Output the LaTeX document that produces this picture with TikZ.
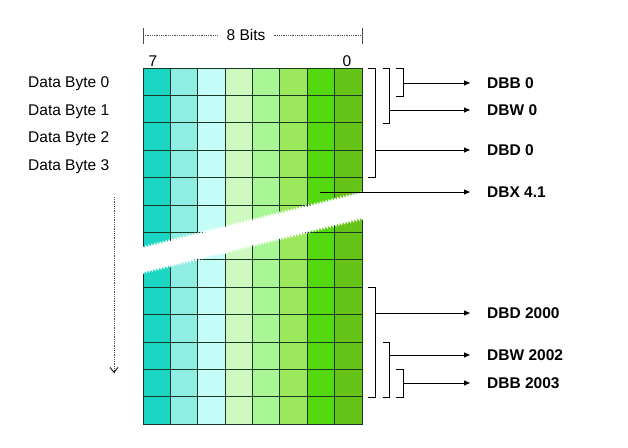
\documentclass[tikz,border=0pt]{standalone}
\usepackage{fontspec}
\setmainfont{Liberation Sans}
\usetikzlibrary{arrows.meta,positioning,decorations.pathmorphing}

\definecolor{bitA}{RGB}{28,214,196}
\definecolor{bitB}{RGB}{142,238,228}
\definecolor{bitC}{RGB}{196,252,248}
\definecolor{bitD}{RGB}{206,250,192}
\definecolor{bitE}{RGB}{168,246,150}
\definecolor{bitF}{RGB}{156,232,92}
\definecolor{bitG}{RGB}{84,216,16}
\definecolor{bitH}{RGB}{102,196,24}
\definecolor{gridline}{RGB}{24,56,36}

\begin{document}
\begin{tikzpicture}[x=1pt, y=-1pt,
    every node/.style={font=\fontsize{15.5}{18}\selectfont, inner sep=0pt},
    lbl/.style={font=\fontsize{15.5}{18}\selectfont\bfseries, anchor=west},
    cell/.style={draw=gridline, line width=1pt},
    brk/.style={line width=0.8pt},
    arr/.style={-{Triangle[length=6pt,width=5pt]}, line width=0.8pt, shorten >=17pt},
    dim/.style={densely dotted, black!70, line width=0.8pt}
]
\useasboundingbox (0,0) rectangle (628,447);

% Bit width marker
\coordinate (bitL) at (143,35);
\coordinate (bitR) at (362,35);
\node[inner xsep=8pt] (bits) at (246,35) {8 Bits};
\draw[dim] (bitL) -- (bits) -- (bitR);
\draw[line width=0.8pt, black!70] (143,28) -- (143,44);
\draw[line width=0.8pt, black!70] (362,28) -- (362,44);
\node (msb) at (153,61) {7};
\node (lsb) at (347,61) {0};

% Byte cells, one column per bit
\foreach \c/\col in {0/bitA,1/bitB,2/bitC,3/bitD,4/bitE,5/bitF,6/bitG,7/bitH}
  \foreach \r in {0,...,12}
    \filldraw[cell, fill=\col] ({143+27.375*\c},{68+27.4*\r}) rectangle +(27.375,27.4);

% Break in the memory area
\fill[white, decoration={snake, segment length=3pt, amplitude=1.5pt}]
  (139,248) decorate {-- (366,191)} -- (366,218) decorate {-- (139,274)} -- cycle;

% Byte labels
\foreach \i/\y in {0/87.5,1/115,2/142.5,3/170}
  \node[anchor=base west] (byte\i) at (28,\y) {Data Byte \i};

% Address direction
\coordinate (scanT) at (114,197);
\coordinate (scanB) at (114,373);
\draw[dim, -{Straight Barb[length=5pt,width=8pt,black]}] (scanT) -- (scanB);

% Brackets at the start of the block
\draw[brk] (368,68) -- (375,68) -- (375,177) -- (368,177);
\draw[brk] (383,68) -- (389,68) -- (389,123) -- (383,123);
\draw[brk] (396,68) -- (403,68) -- (403,96) -- (396,96);
\coordinate (dbd0) at (375,150);
\coordinate (dbw0) at (389,110);
\coordinate (dbb0) at (403,83);
\coordinate (dbx) at (320,192);

% Brackets at the end of the block
\draw[brk] (368,287) -- (375,287) -- (375,397) -- (368,397);
\draw[brk] (383,342) -- (389,342) -- (389,397) -- (383,397);
\draw[brk] (396,369) -- (403,369) -- (403,397) -- (396,397);
\coordinate (dbdE) at (375,313);
\coordinate (dbwE) at (389,355);
\coordinate (dbbE) at (403,383);

% Access labels
\node[lbl] (DBB0) at (487,83)  {DBB 0};
\node[lbl] (DBW0) at (487,110) {DBW 0};
\node[lbl] (DBD0) at (487,150) {DBD 0};
\node[lbl] (DBX)  at (487,192) {DBX 4.1};
\node[lbl] (DBDE) at (487,313) {DBD 2000};
\node[lbl] (DBWE) at (487,355) {DBW 2002};
\node[lbl] (DBBE) at (487,383) {DBB 2003};

\draw[arr] (dbb0) -- (DBB0);
\draw[arr] (dbw0) -- (DBW0);
\draw[arr] (dbd0) -- (DBD0);
\draw[arr] (dbx)  -- (DBX);
\draw[arr] (dbdE) -- (DBDE);
\draw[arr] (dbwE) -- (DBWE);
\draw[arr] (dbbE) -- (DBBE);
\end{tikzpicture}
\end{document}
